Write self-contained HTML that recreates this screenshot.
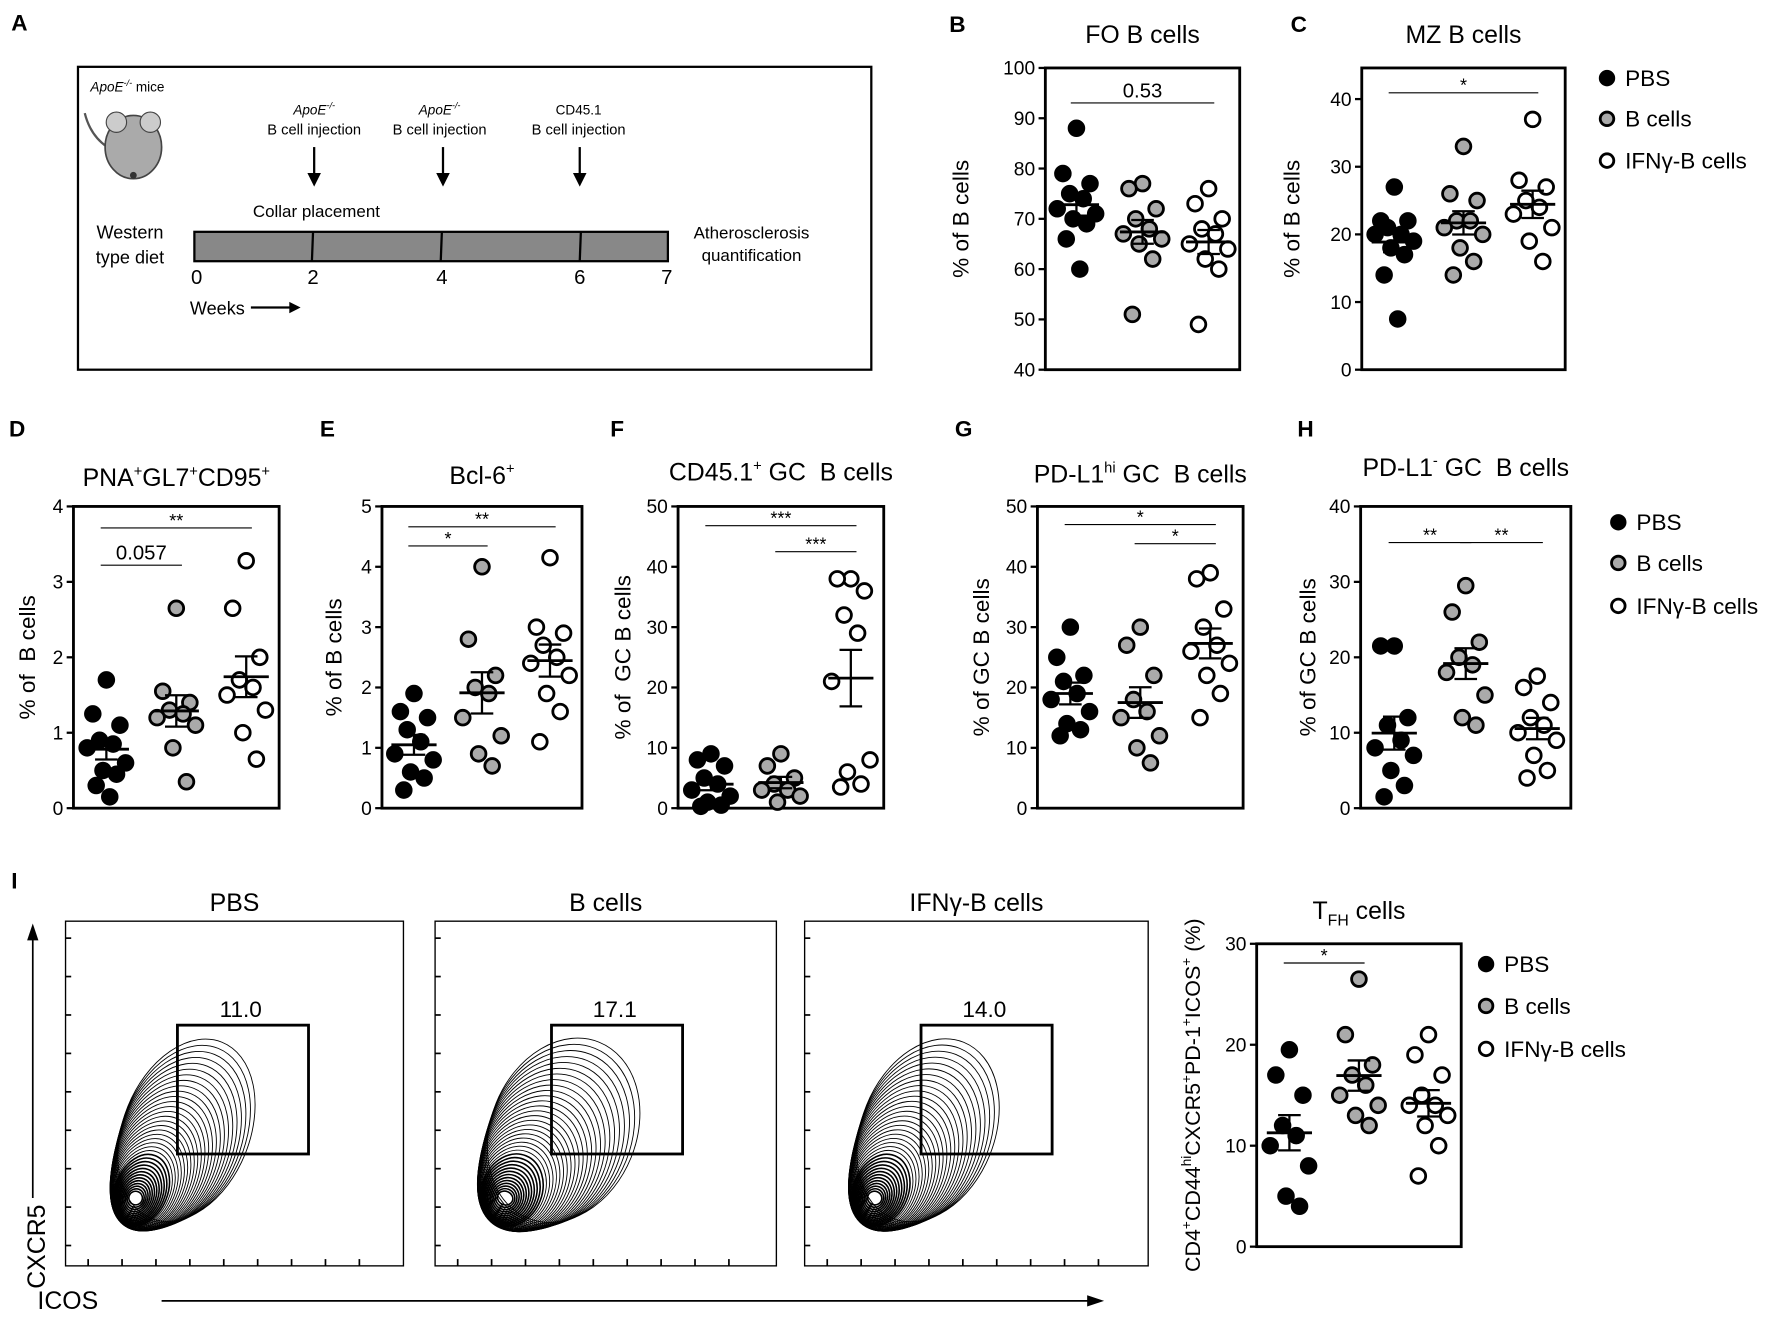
<!DOCTYPE html>
<html><head><meta charset="utf-8"><style>
html,body{margin:0;padding:0;background:#fff}
svg{display:block;font-family:"Liberation Sans","DejaVu Sans",sans-serif}
</style></head><body>
<svg id="fig" width="1772" height="1318" viewBox="0 0 1568 1166" xmlns="http://www.w3.org/2000/svg">
<g id="panelA">
<text x="10" y="27" font-size="20" font-weight="bold">A</text>
<rect x="69" y="59" width="702" height="268" fill="none" stroke="#000" stroke-width="2"/>
<text x="80" y="81" font-size="12" font-style="italic">ApoE<tspan font-size="8" dy="-5">-/-</tspan><tspan dy="5" font-style="normal"> mice</tspan></text>
<g>
<path d="M95 130 Q80 120 75 100" stroke="#555" fill="none" stroke-width="2"/>
<ellipse cx="118" cy="130" rx="25" ry="28" fill="#aaa" stroke="#444" stroke-width="1.5"/>
<ellipse cx="103" cy="108" rx="9" ry="9" fill="#ccc" stroke="#444"/>
<ellipse cx="133" cy="108" rx="9" ry="9" fill="#ccc" stroke="#444"/>
<circle cx="118" cy="155" r="3" fill="#333"/>
</g>
<text x="115" y="211" font-size="16" text-anchor="middle">Western</text>
<text x="115" y="233" font-size="16" text-anchor="middle">type diet</text>
<rect x="172" y="205" width="419" height="26" fill="#888" stroke="#000" stroke-width="2"/>
<line x1="277" y1="205" x2="276" y2="231" stroke="#000" stroke-width="2"/>
<line x1="391" y1="205" x2="390" y2="231" stroke="#000" stroke-width="2"/>
<line x1="514" y1="205" x2="513" y2="231" stroke="#000" stroke-width="2"/>
<g font-size="18" text-anchor="middle">
<text x="174" y="251">0</text><text x="277" y="251">2</text><text x="391" y="251">4</text><text x="513" y="251">6</text><text x="590" y="251">7</text></g>
<text x="168" y="278" font-size="16">Weeks</text>
<line x1="222" y1="272" x2="260" y2="272" stroke="#000" stroke-width="2"/><path d="M266 272 L256 267 L256 277 Z"/>
<text x="280" y="192" font-size="15" text-anchor="middle">Collar placement</text>
<text x="665" y="211" font-size="15" text-anchor="middle">Atherosclerosis</text>
<text x="665" y="231" font-size="15" text-anchor="middle">quantification</text>
<g font-size="13" text-anchor="middle">
<text x="278" y="101" font-style="italic" font-size="12">ApoE<tspan font-size="8" dy="-5">-/-</tspan></text>
<text x="278" y="119">B cell injection</text>
<text x="389" y="101" font-style="italic" font-size="12">ApoE<tspan font-size="8" dy="-5">-/-</tspan></text>
<text x="389" y="119">B cell injection</text>
<text x="512" y="101" font-size="12">CD45.1</text>
<text x="512" y="119">B cell injection</text></g>
<g stroke="#000" stroke-width="2">
<line x1="278" y1="130" x2="278" y2="155"/><line x1="392" y1="130" x2="392" y2="155"/><line x1="513" y1="130" x2="513" y2="155"/></g>
<path d="M272 153 L284 153 L278 165 Z M386 153 L398 153 L392 165 Z M507 153 L519 153 L513 165 Z"/>
</g>
<g id="plots"></g>
</svg>
<script>
// ---- data ----
const groups = ["PBS", "B cells", "IFNγ-B cells"];
const foPBS = [88,79,77,75,74,72,71,70,69,66,60];
const foB = [77,76,72,70,68,67,66,65,62,51];
const foIFN = [76,73,70,68,67,65,64,62,60,49];
const mzPBS = [27,22,22,21,20,20,19,18,17,14,7.5];
const mzB = [33,26,25,22,22,21,20,18,16,14];
const mzIFN = [37,28,27,25,24,23,21,19,16];
const dPBS = [1.7,1.25,1.1,0.9,0.85,0.8,0.6,0.5,0.45,0.3,0.15];
const dB = [2.65,1.55,1.4,1.3,1.25,1.2,1.1,0.8,0.35];
const dIFN = [3.28,2.65,2.0,1.7,1.6,1.5,1.3,1.0,0.65];
const ePBS = [1.9,1.6,1.5,1.3,1.1,0.9,0.8,0.6,0.5,0.3];
const eB = [4.0,2.8,2.2,2.0,1.9,1.5,1.2,0.9,0.7];
const eIFN = [4.15,3.0,2.9,2.7,2.5,2.4,2.2,1.9,1.6,1.1];
const fPBS = [9,8,7,5,4,3,2,1,0.5,0.3];
const fB = [9,7,5,4,3,3,2,1];
const fIFN = [38,38,36,32,29,21,8,6,4,3.5];
const gPBS = [30,25,22,21,19,18,16,14,13,12];
const gB = [30,27,22,18,16,15,12,10,7.5];
const gIFN = [39,38,33,30,27,26,24,22,19,15];
const hPBS = [21.5,21.5,12,11,9,8,7,5,3,1.5];
const hB = [29.5,26,22,20,19,18,15,12,11];
const hIFN = [17.5,16,14,12,11,10,9,7,5,4];
const tPBS = [19.5,17,15,12,11,10,8,5,4];
const tB = [26.5,21,18,17,16,15,14,13,12];
const tIFN = [21,19,17,15,14,14,13,12,10,7];
const gateValues = ["11.0","17.1","14.0"];

const NS="http://www.w3.org/2000/svg";
const root=document.getElementById('plots');
function mk(tag,attrs,parent){const e=document.createElementNS(NS,tag);for(const k in attrs)e.setAttribute(k,attrs[k]);(parent||root).appendChild(e);return e;}
function txt(s,attrs,parent){const e=mk('text',attrs,parent);e.textContent=s;return e;}
const fills=["#000","#aaa","#fff"];
const jit=[0,-12,12,-6,6,-17,17,-3,9,-9,3];

function panel(c){
  const g=mk('g',{});
  
  
  const y=v=>c.y1-(v-c.ymin)/(c.ymax-c.ymin)*(c.y1-c.y0);
  const w=c.x1-c.x0;
  const gx=i=>c.x0+w*(0.16+0.34*i);
  mk('rect',{x:c.x0,y:c.y0,width:w,height:c.y1-c.y0,fill:'none',stroke:'#000','stroke-width':2.5},g);
  c.ticks.forEach(t=>{const yy=y(t);
    mk('line',{x1:c.x0-6,x2:c.x0,y1:yy,y2:yy,stroke:'#000','stroke-width':2},g);
    const tl=txt(String(t),{x:c.x0-9,y:yy+6,'font-size':17,'text-anchor':'end'},g);
    
    
  });
  const tt=txt('',{x:c.tx||(c.x0+w/2),y:c.ty,'font-size':22,'text-anchor':'middle'},g);
  tt.innerHTML=c.title;
  
  
  const yl=txt('',{transform:`translate(${c.x0-c.ylx},${(c.y0+c.y1)/2}) rotate(-90)`,'font-size':c.ylfs||20,'text-anchor':'middle'},g);
  yl.innerHTML=c.ylabel;
  
  
  txt(c.letter,{x:c.lx,y:c.ly,'font-size':20,'font-weight':'bold'},g);
  c.data.forEach((arr,i)=>{
    const cx=gx(i);
    arr.forEach((v,j)=>{
      const p=mk('circle',{cx:cx+jit[j%jit.length],cy:y(v),r:6.5,fill:fills[i],stroke:'#000','stroke-width':2.5},g);
      
      
    });
    const m=arr.reduce((a,b)=>a+b,0)/arr.length;
    const sd=Math.sqrt(arr.reduce((a,b)=>a+(b-m)*(b-m),0)/(arr.length-1));
    const se=sd/Math.sqrt(arr.length);
    const mean=mk('line',{x1:cx-20,x2:cx+20,y1:y(m),y2:y(m),stroke:'#000','stroke-width':2.5},g);
    
    
    mk('line',{x1:cx,x2:cx,y1:y(m-se),y2:y(m+se),stroke:'#000','stroke-width':2},g);
    mk('line',{x1:cx-10,x2:cx+10,y1:y(m-se),y2:y(m-se),stroke:'#000','stroke-width':2},g);
    mk('line',{x1:cx-10,x2:cx+10,y1:y(m+se),y2:y(m+se),stroke:'#000','stroke-width':2},g);
  });
  (c.sigs||[]).forEach(s=>{
    const a=gx(s[0]),b=gx(s[1]);
    mk('line',{x1:a-5,x2:b+5,y1:s[2],y2:s[2],stroke:'#000','stroke-width':1},g);
    const st=txt(s[3],{x:(a+b)/2,y:s[2]-(s[3].startsWith('*')?1:5),'font-size':s[3].startsWith('*')?16:18,'text-anchor':'middle'},g);
    
    
  });
}
panel({name:'panel-b-fo',x0:925,x1:1097,y0:60,y1:327,ymin:40,ymax:100,ticks:[40,50,60,70,80,90,100],data:[foPBS,foB,foIFN],title:'FO B cells',ty:38,ylabel:'% of B cells',ylx:68,letter:'B',lx:840,ly:28,sigs:[[0,2,91,'0.53']]});
panel({name:'panel-c-mz',x0:1205,x1:1385,y0:60,y1:327,ymin:0,ymax:44.6,ticks:[0,10,20,30,40],data:[mzPBS,mzB,mzIFN],title:'MZ B cells',ty:38,ylabel:'% of B cells',ylx:55,letter:'C',lx:1142,ly:28,sigs:[[0,2,82,'*']]});
panel({name:'panel-d-gc',x0:65,x1:247,y0:448,y1:715,ymin:0,ymax:4,ticks:[0,1,2,3,4],data:[dPBS,dB,dIFN],title:'PNA<tspan font-size="13" dy="-9">+</tspan><tspan dy="9">GL7</tspan><tspan font-size="13" dy="-9">+</tspan><tspan dy="9">CD95</tspan><tspan font-size="13" dy="-9">+</tspan>',ty:430,ylabel:'% of&#160;&#160;B cells',ylx:34,letter:'D',lx:8,ly:386,sigs:[[0,2,467,'**'],[0,1,500,'0.057']]});
panel({name:'panel-e-bcl6',x0:338,x1:515,y0:448,y1:715,ymin:0,ymax:5,ticks:[0,1,2,3,4,5],data:[ePBS,eB,eIFN],title:'Bcl-6<tspan font-size="13" dy="-9">+</tspan>',ty:428,ylabel:'% of B cells',ylx:36,letter:'E',lx:283,ly:386,sigs:[[0,2,466,'**'],[0,1,483,'*']]});
panel({name:'panel-f-cd451',x0:600,x1:782,y0:448,y1:715,ymin:0,ymax:50,ticks:[0,10,20,30,40,50],data:[fPBS,fB,fIFN],title:'CD45.1<tspan font-size="13" dy="-9">+</tspan><tspan dy="9"> GC&#160;&#160;B cells</tspan>',ty:425,ylabel:'% of&#160;&#160;GC B cells',ylx:42,letter:'F',lx:540,ly:386,sigs:[[0,2,465,'***'],[1,2,488,'***']]});
panel({name:'panel-g-pdl1hi',x0:918,x1:1100,y0:448,y1:715,ymin:0,ymax:50,ticks:[0,10,20,30,40,50],data:[gPBS,gB,gIFN],title:'PD-L1<tspan font-size="13" dy="-9">hi</tspan><tspan dy="9"> GC&#160;&#160;B cells</tspan>',ty:427,ylabel:'% of GC B cells',ylx:43,letter:'G',lx:845,ly:386,sigs:[[0,2,464,'*'],[1,2,481,'*']]});
panel({name:'panel-h-pdl1neg',x0:1204,x1:1390,y0:448,y1:715,ymin:0,ymax:40,ticks:[0,10,20,30,40],data:[hPBS,hB,hIFN],title:'PD-L1<tspan font-size="13" dy="-9">-</tspan><tspan dy="9"> GC&#160;&#160;B cells</tspan>',ty:421,ylabel:'% of GC B cells',ylx:40,letter:'H',lx:1148,ly:386,sigs:[[0,1,480,'**'],[1,2,480,'**']]});
panel({name:'panel-i-tfh',x0:1112,x1:1293,y0:835,y1:1103,ymin:0,ymax:30,ticks:[0,10,20,30],data:[tPBS,tB,tIFN],title:'T<tspan font-size="14" dy="6">FH</tspan><tspan dy="-6"> cells</tspan>',ty:813,ylabel:'CD4<tspan font-size="12" dy="-8">+</tspan><tspan dy="8">CD44</tspan><tspan font-size="12" dy="-8">hi</tspan><tspan dy="8">CXCR5</tspan><tspan font-size="12" dy="-8">+</tspan><tspan dy="8">PD-1</tspan><tspan font-size="12" dy="-8">+</tspan><tspan dy="8">ICOS</tspan><tspan font-size="12" dy="-8">+</tspan><tspan dy="8"> (%)</tspan>',ylfs:19,ylx:50,letter:'I',lx:10,ly:786,sigs:[[0,1,852,'*']]});

function legend(x,ys,name){
  const g=mk('g',{});
  
  
  groups.forEach((lab,i)=>{
    const e=mk('g',{},g);
    
    
    mk('circle',{cx:x,cy:ys[i],r:6,fill:fills[i],stroke:'#000','stroke-width':2.5},e);
    txt(lab,{x:x+16,y:ys[i]+7,'font-size':20},e);
  });
}
legend(1422,[69,105,142],'legend-top');
legend(1432,[462,498,536],'legend-middle');
legend(1315,[853,890,928],'legend-bottom');

// flow contour plots
const flowX=[58,385,712];
flowX.forEach((x0,k)=>{
  const g=mk('g',{});
  
  
  const w=[299,302,304][k];
  mk('rect',{x:x0,y:815,width:w,height:305,fill:'none',stroke:'#000','stroke-width':1.2},g);
  txt(groups[k],{x:x0+w/2,y:806,'font-size':22,'text-anchor':'middle'},g);
  for(let t=0;t<9;t++){mk('line',{x1:x0,x2:x0+5,y1:830+t*34,y2:830+t*34,stroke:'#000','stroke-width':1.5},g);
    mk('line',{x1:x0+20+t*30,x2:x0+20+t*30,y1:1120,y2:1114,stroke:'#000','stroke-width':1.5},g);}
  const cx=x0+62, cy=1060;
  const spread=[1,1.15,1.05][k];
  for(let i=0;i<36;i++){
    const s=i/35;
    const rx=(6+s*50)*spread, ry=6+s*78;
    const ex=s*s*45*spread, ey=-s*s*60;
    mk('ellipse',{cx:cx+ex,cy:cy+ey,rx:rx,ry:ry,transform:`rotate(22 ${cx+ex} ${cy+ey})`,fill:'none',stroke:'#000','stroke-width':s<0.35?1.4:0.8},g);
  }
  const gx0=x0+99+[0,4,4][k];
  mk('rect',{x:gx0,y:907,width:116,height:114,fill:'none',stroke:'#000','stroke-width':2.5},g);
  const gl=txt(gateValues[k],{x:gx0+56,y:900,'font-size':20,'text-anchor':'middle'},g);
  
  
});
txt('CXCR5',{transform:'translate(40,1103) rotate(-90)','font-size':22,'text-anchor':'middle'});
mk('line',{x1:29,x2:29,y1:1060,y2:830,stroke:'#000','stroke-width':1.5});
mk('path',{d:'M24 832 L29 817 L34 832 Z'});
txt('ICOS',{x:60,y:1158,'font-size':22,'text-anchor':'middle'});
mk('line',{x1:143,x2:965,y1:1151,y2:1151,stroke:'#000','stroke-width':1.5});
mk('path',{d:'M962 1146 L977 1151 L962 1156 Z'});
</script>
</body></html>
